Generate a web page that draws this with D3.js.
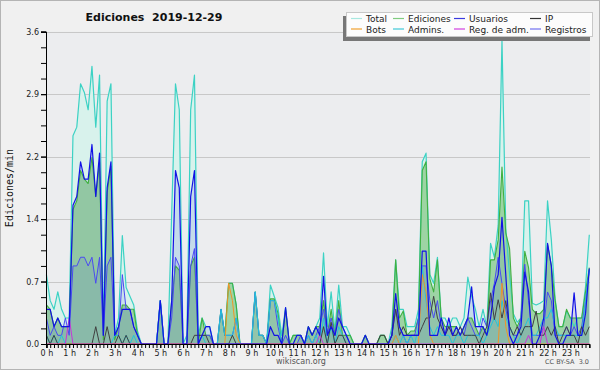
<!DOCTYPE html>
<html><head><meta charset="utf-8">
<script src="https://cdn.jsdelivr.net/npm/d3@7"></script>
<style>
html,body{margin:0;padding:0;background:#f0f0f0;}
svg{display:block;font-family:"DejaVu Sans",sans-serif;}
</style></head><body>
<svg id="c" width="600" height="370"></svg>
<script>
// ---- data (10-minute bins, edits per minute) ----
const hourLabels = ["0 h","1 h","2 h","3 h","4 h","5 h","6 h","7 h","8 h","9 h","10 h","11 h","12 h","13 h","14 h","15 h","16 h","17 h","18 h","19 h","20 h","21 h","22 h","23 h"];
const yTickValues = [0, 0.72, 1.44, 2.16, 2.88, 3.6];
const yTickLabels = ["0.0","0.7","1.4","2.2","2.9","3.6"];

const total = [
0.8,0.5,0.4,0.6,0.4,0.3,
0.3,2.4,2.5,3.0,2.9,2.7,
3.2,2.5,3.1,0.1,2.8,3.0,
0.1,0.3,1.25,0.65,0.55,0.45,
0.15,0,0,0,0,0,
0.5,0,0,1.5,3.0,2.7,
0,0.1,2.7,3.1,0.1,0.3,
0.2,0.2,0,0,0.4,0.1,
0.7,0.7,0.45,0,0,0,
0,0.6,0.1,0.1,0,0.68,
0.55,0.42,0.1,0.42,0,0.1,
0.1,0.1,0,0.2,0.1,0.2,
0.3,1.05,0.2,0.6,0.15,0.68,
0.2,0.2,0.1,0,0,0,
0.1,0,0,0,0.1,0.1,
0,0.2,0.97,0.4,0.4,0.2,
0.2,0.2,0.4,2.1,2.2,0.8,
0.7,1.0,0.3,0.3,0.2,0.3,
0.3,0.2,0.3,0.77,0.55,0.4,
0.2,0.4,0.2,1.16,1.0,1.37,
3.5,1.33,0.8,0.35,0.25,0.3,
1.65,1.65,0.47,0.45,0.47,0.5,
1.65,1.2,0.52,0.2,0.2,0.38,
0.3,0.2,0.3,0.3,0.66,1.26];

const ediciones = [
0.45,0.4,0.2,0.3,0.2,0.2,
0.2,1.55,1.65,2.0,1.9,1.85,
2.15,1.7,2.1,0.05,1.75,2.05,
0.05,0.2,0.45,0.45,0.4,0.4,
0.1,0,0,0,0,0,
0.5,0,0,0.5,0.9,0.85,
0,0,0.9,1.0,0,0.3,
0.1,0.1,0,0,0.4,0.1,
0.7,0.7,0.45,0,0,0,
0,0.6,0.1,0.1,0,0.52,
0.52,0.35,0,0.4,0,0.1,
0.1,0.1,0,0.2,0.1,0.2,
0.2,0.5,0.1,0.4,0.1,0.5,
0.1,0.1,0.1,0,0,0,
0.1,0,0,0,0.1,0.1,
0,0.1,0.97,0.3,0.38,0.1,
0.15,0.15,0.3,2.0,2.1,0.75,
0.6,0.97,0.3,0.2,0.2,0.2,
0.2,0.1,0.2,0.3,0.3,0.2,
0.1,0.2,0.1,0.97,0.97,1.2,
2.04,1.28,1.1,0.3,0.2,0.3,
1.07,0.88,0.4,0.35,0.35,0.4,
1.15,0.9,0.5,0.2,0.2,0.4,
0.3,0.3,0.3,0.3,0.6,0.88];

const usuarios = [
0.4,0.4,0.2,0.3,0.2,0.2,
0.2,1.6,1.7,2.1,1.9,1.9,
2.3,1.7,2.2,0.1,1.8,2.1,
0.1,0.2,0.4,0.4,0.4,0.2,
0.1,0,0,0,0,0,
0.5,0,0,0.5,2.0,1.8,
0,0,1.7,2.0,0,0.1,
0.2,0.2,0,0,0,0,
0,0,0,0,0,0,
0,0,0,0,0,0.2,
0.1,0.1,0,0.42,0,0,
0.1,0.1,0,0.2,0.1,0.2,
0.1,0.78,0.1,0.2,0.1,0.3,
0.2,0.1,0,0,0,0,
0.1,0,0,0,0,0,
0,0.1,0.58,0.2,0.1,0.1,
0.1,0.1,0.1,1.07,1.07,0.1,
0.1,0.1,0.3,0.1,0.3,0.1,
0.2,0.1,0.2,0.3,0.66,0.2,
0.2,0.2,0.1,0.3,0.66,0.8,
1.46,0.8,0.1,0,0.1,0.2,
0.83,0.6,0,0,0.1,0.3,
1.16,0.9,0.1,0,0,0.1,
0.1,0.59,0.1,0.1,0.35,0.87];

const registros = [
0.3,0.1,0.2,0.1,0.1,0.3,
0.1,0.9,0.9,1.0,1.0,0.9,
1.0,0.7,1.0,0.1,0.9,1.0,
0.1,0.1,0.8,0.4,0.4,0.2,
0.1,0,0,0,0,0,
0.5,0,0,0.3,1.0,0.9,
0,0,0.9,1.1,0,0.1,
0.1,0.1,0,0,0.4,0.1,
0.1,0.1,0.3,0,0,0,
0,0.6,0.1,0.1,0,0.5,
0.5,0.2,0,0.1,0,0,
0,0.1,0,0.1,0,0.1,
0.2,0.4,0.1,0.3,0.1,0.4,
0.2,0.1,0,0,0,0,
0,0,0,0,0,0,
0,0.1,0.4,0.2,0.1,0,
0.1,0.1,0.3,0.9,0.9,0.5,
0.3,0.5,0.2,0.1,0.2,0.1,
0.1,0.2,0.1,0.3,0.2,0.1,
0.1,0.3,0.2,0.5,0.7,1.0,
0.7,0.4,0.2,0.1,0.1,0.3,
0.92,0.5,0.1,0.1,0.1,0.2,
0.6,0.5,0.1,0.1,0.1,0.2,
0.1,0.2,0.1,0.2,0.5,0.85];

const ip = [
0.1,0,0.1,0,0,0,
0,0,0,0,0,0,
0,0.2,0,0,0.2,0,
0,0.1,0,0.1,0,0,
0,0,0,0,0,0,
0,0,0,0,0,0,
0,0,0,0.1,0.1,0.1,
0.1,0,0,0,0,0,
0,0.1,0,0,0,0,
0,0,0,0,0,0,
0,0,0,0,0,0,
0,0,0,0,0,0,
0,0.2,0,0.25,0,0.1,
0.1,0,0,0,0,0,
0,0,0,0,0.1,0.1,
0,0.1,0.4,0.1,0.2,0.1,
0.1,0.1,0.1,0.2,0.3,0.3,
0.55,0.3,0.2,0.1,0.2,0.1,
0.1,0.2,0.1,0.1,0.1,0.1,
0,0.1,0.2,0.59,0.28,0.51,
0.3,0.5,0.2,0.1,0.2,0.1,
0.2,0.2,0.2,0.38,0.1,0.1,
0.2,0.1,0.2,0,0.1,0.2,
0.1,0.1,0,0.2,0.1,0.2];

const bots = [
0,0,0,0,0,0,
0,0,0,0,0,0,
0,0,0,0,0,0,
0,0,0,0,0,0,
0,0,0,0,0,0,
0,0,0,0,0,0,
0,0,0,0,0,0,
0,0,0,0,0,0,
0.7,0.5,0.1,0,0,0,
0,0,0,0,0,0,
0,0,0,0,0,0,
0,0,0,0,0,0,
0,0,0,0,0,0,
0,0,0,0,0,0,
0,0,0,0,0,0,
0,0,0.1,0,0,0,
0,0,0,0.8,0.6,0.1,
0,0,0,0,0,0,
0,0,0,0,0,0,
0,0,0,0,0,0,
0.7,0.2,0,0,0,0,
0,0,0,0,0,0,
0,0,0,0,0,0,
0,0,0,0,0,0];

const admins = [
0.1,0,0.1,0,0.1,0,
0,0,0,0,0,0,
0,0,0,0,0,0,
0.1,0.1,0,0.1,0,0.1,
0,0,0,0,0,0,
0.5,0,0,0,0,0,
0,0,0,0,0,0.1,
0,0,0,0,0.4,0.1,
0.1,0.1,0.3,0,0,0,
0,0.6,0.1,0.1,0,0.5,
0.5,0.3,0,0,0,0,
0,0,0,0.1,0,0.1,
0,0.3,0,0.2,0,0.2,
0.1,0,0,0,0,0,
0,0,0,0,0,0,
0,0,0.1,0,0.1,0,
0.1,0,0.2,0.9,0.5,0.2,
0.1,0.2,0.1,0.1,0.1,0,
0.1,0.1,0,0.1,0.1,0.1,
0.1,0,0.1,0.2,0.3,0.2,
0.5,0.3,0.2,0.1,0,0.1,
0.2,0.3,0.1,0.1,0.2,0.3,
0.3,0.4,0.2,0.1,0.1,0.1,
0.1,0.1,0.1,0.1,0.5,0.85];

const regAdm = [
0,0,0,0,0,0,
0.3,0,0,0,0,0,
0,0,0,0,0,0,
0,0,0,0,0,0,
0,0,0,0,0,0,
0,0,0,0,0,0,
0,0,0,0,0,0,
0,0,0,0,0,0,
0,0,0,0,0,0,
0,0,0,0,0,0,
0,0,0,0,0,0,
0,0,0,0,0,0,
0.1,0,0,0,0,0,
0,0,0,0,0,0,
0,0,0,0,0,0,
0,0,0,0,0,0,
0,0,0,0,0,0,
0,0,0,0,0,0,
0,0,0,0,0,0,
0,0,0,0,0,0,
0,0,0,0,0,0,
0,0.1,0,0,0,0.2,
0,0,0,0,0,0,
0,0,0,0,0,0];

const legendNames = ["Total","Ediciones","Usuarios","IP","Bots","Admins.","Reg. de adm.","Registros"];
const legendColors = ["#a8e8e0","#80cc80","#3a3ae0","#333333","#f0a030","#40c8d8","#d040e0","#7070f0"];

// ---- drawing ----
const svg = d3.select("#c");
const W = 600, H = 370;
const L = 46, R = 590, T = 31.7, B = 344;

svg.append("rect").attr("x",0.5).attr("y",0.5).attr("width",W-1).attr("height",H-1)
  .attr("fill","#f0f0f0").attr("stroke","#b4b4b4");

const n = total.length;
const x = d3.scaleLinear().domain([0, n-1]).range([46.4, 589.3]);
const y = d3.scaleLinear().domain([0, 3.6]).range([B, T]);

svg.append("rect").attr("x",L).attr("y",T).attr("width",R-L).attr("height",B-T).attr("fill","#ecedef");

// grid
svg.append("g").selectAll("line").data(yTickValues.slice(1)).join("line")
  .attr("x1",L).attr("x2",R).attr("y1",d=>Math.round(y(d))+0.5).attr("y2",d=>Math.round(y(d))+0.5)
  .attr("stroke","#c8c8c8").attr("stroke-width",1);

const idx = d3.range(n);
const area = arr => d3.area().x(i=>x(i)).y0(B).y1(i=>y(arr[i]))(idx);
const line = arr => d3.line().x(i=>x(i)).y(i=>y(arr[i]))(idx);

const plot = svg.append("g");
plot.append("path").attr("d",area(total)).attr("fill","#d8f2ec");
plot.append("path").attr("d",area(usuarios)).attr("fill","rgba(40,40,220,0.11)");
plot.append("path").attr("d",area(ediciones)).attr("fill","rgba(76,172,64,0.42)");
plot.append("path").attr("d",area(registros)).attr("fill","rgba(60,60,230,0.09)");

const lines = [
  [total,"#3cd2c4",1.2],
  [ediciones,"#40b040",1.1],
  [registros,"#4a4af2",1.0],
  [admins,"#22c4dc",1.0],
  [ip,"#404040",1.0],
  [bots,"#f09428",1.0],
  [regAdm,"#c834d8",1.0],
  [usuarios,"#1212e6",1.2]
];
lines.forEach(([arr,col,w])=>{
  plot.append("path").attr("d",line(arr)).attr("fill","none").attr("stroke",col)
    .attr("stroke-width",w).attr("stroke-linejoin","round");
});

// y axis
const yAxis = d3.axisLeft(y).tickValues(yTickValues).tickFormat((d,i)=>yTickLabels[i]).tickSize(5).tickPadding(2);
const gy = svg.append("g").attr("transform",`translate(${L},0)`).call(yAxis);
const yMinor = d3.axisLeft(y).tickValues(d3.range(0, 3.61, 0.18)).tickFormat("").tickSize(5);
svg.append("g").attr("transform",`translate(${L},0)`).call(yMinor);

// x axis
const xAxis = d3.axisBottom(x).tickValues(d3.range(0, n, 6)).tickFormat((d,i)=>hourLabels[i]).tickSize(4).tickPadding(2);
const gx = svg.append("g").attr("transform",`translate(0,${B})`).call(xAxis);
const xMinor = d3.axisBottom(x).tickValues(idx).tickFormat("").tickSize(4);
svg.append("g").attr("transform",`translate(0,${B})`).call(xMinor);

svg.selectAll(".tick line").attr("stroke","#000");
svg.selectAll(".domain").attr("stroke","#000");
gy.selectAll("text").attr("font-size",8).attr("font-family","DejaVu Sans").attr("fill","#222");
gx.selectAll("text").attr("font-size",8).attr("font-family","DejaVu Sans").attr("fill","#222");

// title
svg.append("text").attr("x",154).attr("y",21).attr("text-anchor","middle")
  .style("white-space","pre")
  .attr("font-size",11).attr("font-weight","bold").attr("fill","#111").text("Ediciones  2019-12-29");

// y label
svg.append("text").attr("transform","translate(13,188) rotate(-90)").attr("text-anchor","middle")
  .attr("font-family","DejaVu Sans Mono").attr("font-size",10).attr("fill","#111").text("Ediciones/min");

// footer
svg.append("text").attr("x",301).attr("y",364).attr("text-anchor","middle")
  .attr("font-size",8).attr("fill","#555").text("wikiscan.org");
svg.append("text").attr("x",589).attr("y",364).attr("text-anchor","end")
  .style("white-space","pre")
  .attr("font-size",6.5).attr("fill","#555").text("CC BY-SA  3.0");

// legend
const lg = svg.append("g");
lg.append("rect").attr("x",343).attr("y",16).attr("width",247).attr("height",25).attr("fill","#777");
lg.append("rect").attr("x",346.5).attr("y",12.5).attr("width",246).attr("height",24).attr("fill","#fcfcfc").attr("stroke","#c8c8c8");
const colX = [366, 408, 469, 545];
legendNames.forEach((name,i)=>{
  const c = i % 4, r = Math.floor(i/4);
  const tx = colX[c], ty = 22 + r*10.5;
  lg.append("line").attr("x1",tx-15).attr("x2",tx-4).attr("y1",ty-3.5).attr("y2",ty-3.5)
    .attr("stroke",legendColors[i]).attr("stroke-width",1.2);
  lg.append("text").attr("x",tx).attr("y",ty).attr("font-size",9).attr("fill","#222").text(name);
});
</script>
</body></html>
